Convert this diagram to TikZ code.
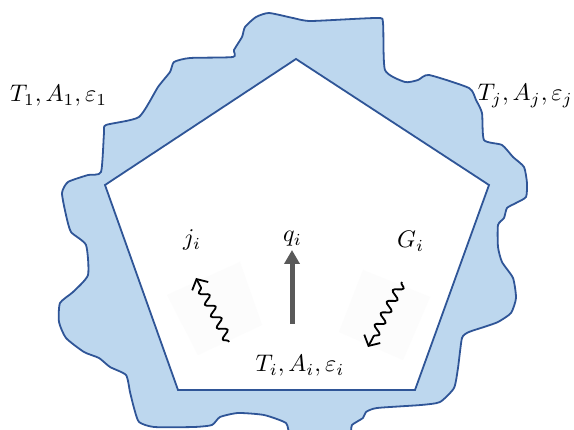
\documentclass[tikz,border=0pt]{standalone}
\usetikzlibrary{decorations.pathmorphing,arrows.meta}
\definecolor{blobfill}{RGB}{189,215,238}
\definecolor{blobline}{RGB}{47,85,151}
\definecolor{qgray}{RGB}{89,89,89}
\newcommand{\biglbl}[1]{\scalebox{2.4}{#1}}
\begin{document}
\begin{tikzpicture}[x=1pt,y=-1pt,
  lbl/.style={inner sep=0pt},
  outline/.style={draw=blobline, line width=1.8pt, line join=round},
  faint/.style={fill=black!1.2, draw=none},
  snakearrow/.style={black, line width=1.8pt, line join=round,
    -{Straight Barb[length=8pt,width=18pt,line width=1.8pt]},
    decorate, decoration={snake, amplitude=4.5pt, segment length=13pt, pre length=1pt, post length=8pt}},
  qarrow/.style={qgray, line width=5pt, -{Triangle[length=14pt,width=15pt]}}]
\useasboundingbox (0,0) rectangle (574,430);
% outer irregular surroundings
\path[outline, fill=blobfill] plot[smooth cycle, tension=0.35] coordinates {
 (269,13) (293,18) (311,21) (377,18) (383,23) (385,70) (405,82) (418,80) (429,75)
 (469,88) (476,100) (482,113) (484,140) (502,145) (513,157) (524,167) (527,183)
 (526,197) (516,203) (507,208) (504,218) (498,225) (498,247) (502,262) (513,278)
 (516,298) (511,313) (498,322) (484,327) (469,332) (462,338) (458,368) (454,388)
 (440,402) (421,405) (377,408) (366,412) (363,418) (352,425) (347,436) (293,436)
 (286,423) (264,415) (238,413) (220,417) (212,425) (194,427) (154,427) (139,422)
 (134,408) (130,392) (126,375) (110,367) (99,358) (84,352) (66,338) (59,322)
 (60,303) (73,292) (88,275) (86,245) (71,232) (66,215) (62,193) (68,182) (88,175)
 (101,172) (104,133) (106,125) (139,117) (158,87) (170,72) (174,62) (190,58)
 (233,57) (234,50) (242,37) (245,27) (256,17)};
% pentagon
\path[outline, fill=white, line join=miter] (296,59) -- (489,185) -- (415,390) -- (178,390) -- (105,185) -- cycle;
% faint backgrounds of wavy arrows
\fill[faint] (167,295) -- (240,262) -- (262,325) -- (198,355) -- cycle;
\fill[faint] (339,332) -- (363,270) -- (430,297) -- (403,360) -- cycle;
% labels
\node[lbl, anchor=base west] (t1) at (10,102) {\biglbl{$T_1, A_1, \varepsilon_1$}};
\node[lbl, anchor=base east] (tj) at (573,101) {\biglbl{$T_j, A_j, \varepsilon_j$}};
\node[lbl, anchor=base west] (ji) at (183,246) {\biglbl{$j_i$}};
\node[lbl, anchor=base west] (qi) at (283,242) {\biglbl{$q_i$}};
\node[lbl, anchor=base west] (gi) at (397,248) {\biglbl{$G_i$}};
\node[lbl, anchor=base] (ti) at (300,372) {\biglbl{$T_i, A_i, \varepsilon_i$}};
% arrows
\coordinate (qs) at (292,324);
\coordinate (qe) at (292,250);
\draw[qarrow] (qs) -- (qe);
\coordinate (ls) at (229,342);
\coordinate (le) at (196,278);
\draw[snakearrow] (ls) -- (le);
\coordinate (rs) at (402,282);
\coordinate (re) at (368,347);
\draw[snakearrow] (rs) -- (re);
\end{tikzpicture}
\end{document}
